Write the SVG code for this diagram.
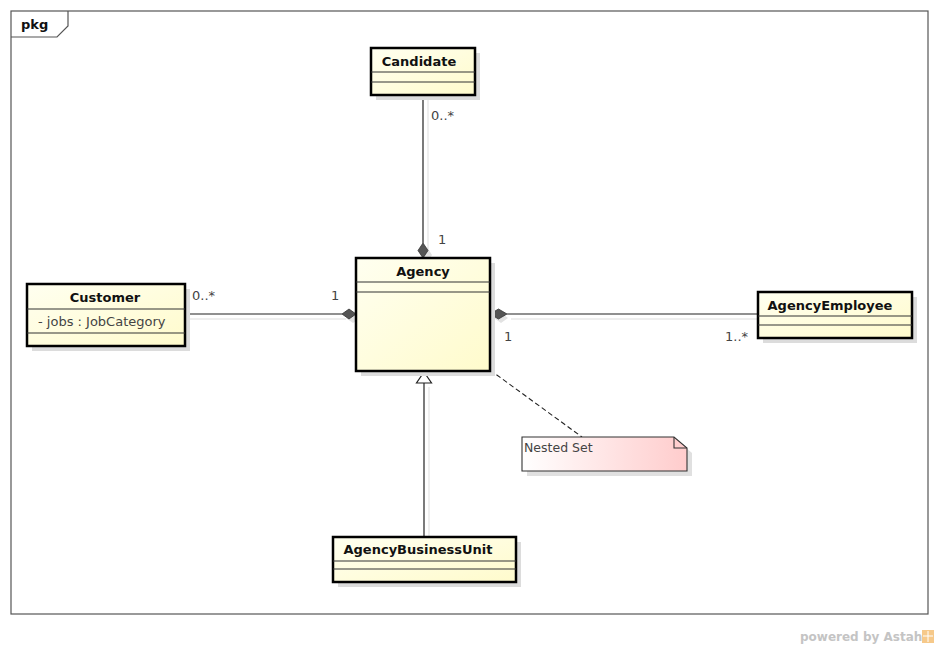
<svg xmlns="http://www.w3.org/2000/svg" width="940" height="648" viewBox="0 0 940 648">
<defs>
<linearGradient id="cls" x1="0" y1="0" x2="1" y2="1">
<stop offset="0" stop-color="#fffff0"/>
<stop offset="1" stop-color="#fffbcc"/>
</linearGradient>
<linearGradient id="note" x1="0" y1="0" x2="1" y2="0">
<stop offset="0" stop-color="#ffffff"/>
<stop offset="1" stop-color="#ffcccc"/>
</linearGradient>
<style>
.box{fill:url(#cls);stroke:#000;stroke-width:2.5}
.shadow{fill:#dcdcdc}
.sep{stroke:#333;stroke-width:1.2}
.name{font-family:"DejaVu Sans",sans-serif;font-size:13px;font-weight:bold;fill:#111}
.attr{font-family:"DejaVu Sans",sans-serif;font-size:13px;fill:#444}
.note{font-family:"DejaVu Sans",sans-serif;font-size:12.5px;fill:#444}
.mult{font-family:"DejaVu Sans",sans-serif;font-size:13px;fill:#444}
.line{stroke:#222;stroke-width:1.2;fill:none}
.lshadow{stroke:#eeeeee;stroke-width:2;fill:none}
.dia{fill:#555;stroke:#333;stroke-width:0.8}
</style>
</defs>
<rect width="940" height="648" fill="#fff"/>
<g id="frame">
<rect x="11" y="11" width="917" height="603" fill="none" stroke="#555" stroke-width="1.2"/>
<path d="M11 37 H57 L68 26 V11" fill="none" stroke="#555" stroke-width="1.2"/>
<text x="21" y="29" class="name" style="font-size:13px">pkg</text>
</g>
<g id="connectors">
<line class="lshadow" x1="428" y1="96" x2="428" y2="262"/>
<line class="line" x1="423" y1="95" x2="423" y2="243"/>
<polygon points="427,247 432,255 427,263 422,255" fill="#e2e2e2"/>
<polygon class="dia" points="423,243 428,250.5 423,258 418,250.5"/>
<text class="mult" x="431" y="120">0..*</text>
<text class="mult" x="438" y="244">1</text>

<line class="lshadow" x1="187" y1="319" x2="346" y2="319"/>
<line class="line" x1="185" y1="314" x2="342" y2="314"/>
<polygon points="346,318 353,313 360,318 353,323" fill="#e2e2e2"/>
<polygon class="dia" points="342,314 349,309 356,314 349,319"/>
<text class="mult" x="192" y="300">0..*</text>
<text class="mult" x="331" y="300">1</text>

<line class="lshadow" x1="511" y1="319" x2="758" y2="319"/>
<line class="line" x1="507" y1="314" x2="758" y2="314"/>
<polygon points="494,318 501,313 508,318 501,323" fill="#e2e2e2"/>
<polygon class="dia" points="490,314 498.5,309 507,314 498.5,319"/>
<text class="mult" x="504" y="341">1</text>
<text class="mult" x="725" y="341">1..*</text>

<line class="lshadow" x1="429" y1="387" x2="429" y2="537"/>
<line class="line" x1="424" y1="383" x2="424" y2="537"/>
<polygon points="424,372 431.5,383 416.5,383" fill="#fff" stroke="#222" stroke-width="1.2"/>

<line x1="490" y1="370" x2="582" y2="437" stroke="#222" stroke-width="1.1" stroke-dasharray="5,3"/>
</g>
<g id="Candidate">
<rect class="shadow" x="376" y="53" width="104" height="47"/>
<rect class="box" x="371" y="48" width="104" height="47"/>
<line class="sep" x1="371" y1="72" x2="475" y2="72"/>
<line class="sep" x1="371" y1="82" x2="475" y2="82"/>
<text class="name" x="419" y="66" text-anchor="middle">Candidate</text>
</g>
<g id="Agency">
<rect class="shadow" x="361" y="263" width="134" height="113"/>
<rect class="box" x="356" y="258" width="134" height="113"/>
<line class="sep" x1="356" y1="282" x2="490" y2="282"/>
<line class="sep" x1="356" y1="292" x2="490" y2="292"/>
<text class="name" x="423" y="276" text-anchor="middle">Agency</text>
</g>
<g id="Customer">
<rect class="shadow" x="32" y="289" width="158" height="62"/>
<rect class="box" x="27" y="284" width="158" height="62"/>
<line class="sep" x1="27" y1="309" x2="185" y2="309"/>
<line class="sep" x1="27" y1="333" x2="185" y2="333"/>
<text class="name" x="105" y="302" text-anchor="middle">Customer</text>
<text class="attr" x="38" y="326">- jobs : JobCategory</text>
</g>
<g id="AgencyEmployee">
<rect class="shadow" x="763" y="297" width="154" height="46"/>
<rect class="box" x="758" y="292" width="154" height="46"/>
<line class="sep" x1="758" y1="316" x2="912" y2="316"/>
<line class="sep" x1="758" y1="325" x2="912" y2="325"/>
<text class="name" x="830" y="310" text-anchor="middle">AgencyEmployee</text>
</g>
<g id="AgencyBusinessUnit">
<rect class="shadow" x="338" y="542" width="183" height="45"/>
<rect class="box" x="333" y="537" width="183" height="45"/>
<line class="sep" x1="333" y1="561" x2="516" y2="561"/>
<line class="sep" x1="333" y1="569" x2="516" y2="569"/>
<text class="name" x="418" y="554" text-anchor="middle">AgencyBusinessUnit</text>
</g>
<g id="NestedSet">
<path d="M527 442 H679 L692 453 V476 H527 Z" fill="#e0e0e0"/>
<path d="M522 437 H674 L687 448 V471 H522 Z" fill="url(#note)" stroke="#333" stroke-width="1.1"/>
<path d="M674 437 V448 H687" fill="none" stroke="#333" stroke-width="1.1"/>
<text class="note" x="524" y="452">Nested Set</text>
</g>
<g id="watermark">
<text x="800" y="641" style="font-family:'DejaVu Sans',sans-serif;font-size:12px;font-weight:bold;fill:#c4c4c4">powered by Astah</text>
<rect x="922" y="630" width="12" height="13" fill="#f6c98a"/>
<path d="M923 636 L933 636 M928 631 L928 642" stroke="#fff" stroke-width="1"/>
</g>
</svg>
